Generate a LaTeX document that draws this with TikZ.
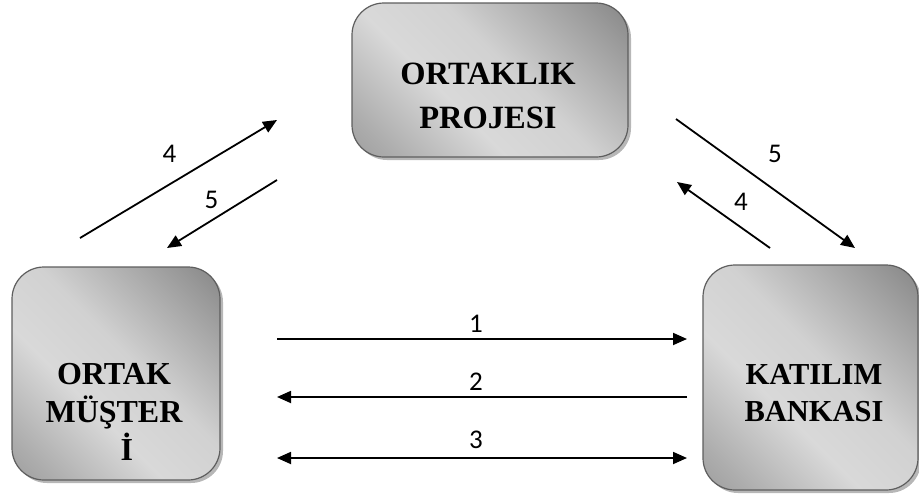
\documentclass[tikz,border=0pt]{standalone}
\usepackage{fontspec}
\setmainfont{Liberation Serif}
\newfontfamily\numfont{Carlito}
\usetikzlibrary{arrows.meta,shadows}
\definecolor{boxedge}{HTML}{5E5E5E}
\pgfdeclareverticalshading{boxshade}{100bp}{color(0bp)=(black!50); color(22bp)=(black!32); color(40bp)=(black!15); color(55bp)=(black!18); color(78bp)=(black!40); color(100bp)=(black!62)}
\begin{document}
\begin{tikzpicture}[x=1pt,y=-1pt,
  boxstyle/.style={draw=boxedge, line width=1.2pt, rounded corners=32pt,
    shading=boxshade, shading angle=-45,
    drop shadow={opacity=0.4, shadow xshift=3pt, shadow yshift=-3pt, fill=black!70},
    inner sep=0pt},
  boxtext/.style 2 args={align=center, font=\bfseries\fontsize{#1}{#2}\selectfont, inner sep=0pt},
  arr/.style={line width=1.8pt, -{Triangle[length=14pt,width=12pt]}},
  darr/.style={line width=1.8pt, {Triangle[length=14pt,width=12pt]}-{Triangle[length=14pt,width=12pt]}},
  num/.style={font=\numfont\fontsize{27}{32}\selectfont, inner sep=0pt, anchor=base}
]
\path[use as bounding box] (0,0) rectangle (919,498);

% boxes
\node[boxstyle, minimum width=276pt, minimum height=154pt] (proj) at (490,80) {};
\node[boxtext={32.5}{44}] (projtxt) at (488,96) {ORTAKLIK\\PROJESI};

\node[boxstyle, minimum width=208pt, minimum height=213pt] (must) at (116,373.5) {};
\node[boxtext={32}{38}] (musttxt) at (114,412) {ORTAK\\MÜŞTER\\\hspace*{0.8em}İ};

\node[boxstyle, minimum width=215pt, minimum height=225pt] (bank) at (810.5,377.5) {};
\node[boxtext={30.5}{37}] (banktxt) at (814,393.5) {KATILIM\\BANKASI};

% left diagonal arrows
\coordinate (l4s) at (80,238);
\coordinate (l4e) at (277,120);
\draw[arr] (l4s) -- (l4e);
\node[num] (l4) at (169.5,162) {4};

\coordinate (l5s) at (277,180);
\coordinate (l5e) at (167,248);
\draw[arr] (l5s) -- (l5e);
\node[num] (l5) at (211.5,208) {5};

% right diagonal arrows
\coordinate (r5s) at (676,119);
\coordinate (r5e) at (855,248);
\draw[arr] (r5s) -- (r5e);
\node[num] (r5) at (775,162) {5};

\coordinate (r4s) at (770,248);
\coordinate (r4e) at (677,182);
\draw[arr] (r4s) -- (r4e);
\node[num] (r4) at (741,210) {4};

% horizontal arrows
\coordinate (h1s) at (277,339);
\coordinate (h1e) at (687,339);
\draw[arr] (h1s) -- (h1e);
\node[num] (n1) at (476,332) {1};

\coordinate (h2s) at (687,397);
\coordinate (h2e) at (277,397);
\draw[arr] (h2s) -- (h2e);
\node[num] (n2) at (476,390) {2};

\coordinate (h3s) at (277,458);
\coordinate (h3e) at (687,458);
\draw[darr] (h3s) -- (h3e);
\node[num] (n3) at (476,448) {3};
\end{tikzpicture}
\end{document}
